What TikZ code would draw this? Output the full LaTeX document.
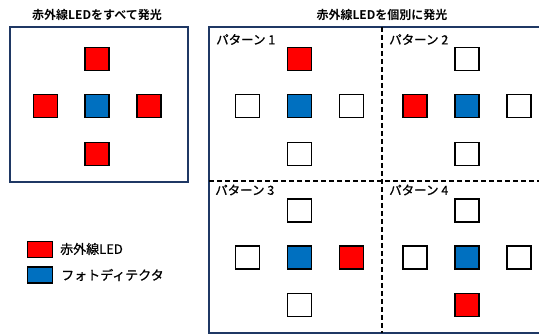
\documentclass[tikz,border=0pt]{standalone}
\usepackage{fontspec}
\newfontfamily\jp{Noto Sans CJK JP}[BoldFont={* Bold}]
\newfontfamily\jpm{Noto Sans CJK JP}[FakeBold=0.8]
\definecolor{ledred}{HTML}{FF0000}
\definecolor{pdblue}{HTML}{0070C0}
\definecolor{frame}{HTML}{1F3864}
\tikzset{
  sq/.style={draw=black,line width=1.6pt,minimum width=24pt,minimum height=23pt,inner sep=0pt},
  led/.style={sq,fill=ledred},
  pd/.style={sq,fill=pdblue},
  off/.style={sq,fill=white},
  legsq/.style={draw=black,line width=1.6pt,minimum width=25pt,minimum height=16pt,inner sep=0pt},
  title/.style={font=\jp\bfseries\fontsize{12}{14}\selectfont,inner sep=0pt},
  plabel/.style={font=\jpm\fontsize{12.5}{14}\selectfont,inner sep=0pt,anchor=west},
  legtext/.style={font=\jpm\fontsize{13}{15}\selectfont,inner sep=0pt,anchor=west},
  panel/.style={draw=frame,line width=2pt},
  divider/.style={draw=black,line width=1.5pt,dash pattern=on 5pt off 3pt}
}
\begin{document}
\begin{tikzpicture}[x=1pt,y=-1pt]
\clip (0,0) rectangle (539,334);
\fill[white] (0,0) rectangle (539,334);
% left panel
\node[title] (t1) at (97,15) {赤外線LEDをすべて発光};
\draw[panel] (10,27) rectangle (188,182);
\node[led] (aT) at (97,59) {};
\node[led] (aL) at (45.5,106) {};
\node[pd]  (aC) at (97,106) {};
\node[led] (aR) at (149,106) {};
\node[led] (aB) at (97,154) {};
% right panel
\node[title] (t2) at (382,15) {赤外線LEDを個別に発光};
\draw[panel] (209,27) rectangle (560,333);
\draw[divider] (382,27) -- (382,333);
\draw[divider] (209,181) -- (560,181);
\node[plabel] (l1) at (216,39.5) {パターン 1};
\node[plabel] (l2) at (389,39.5) {パターン 2};
\node[plabel] (l3) at (215,190) {パターン 3};
\node[plabel] (l4) at (389,190) {パターン 4};
% pattern 1
\node[led] (p1T) at (299.5,59) {};
\node[off] (p1L) at (247.5,106) {};
\node[pd]  (p1C) at (299.5,106) {};
\node[off] (p1R) at (351.5,106) {};
\node[off] (p1B) at (299.5,154) {};
% pattern 2
\node[off] (p2T) at (467,59) {};
\node[led] (p2L) at (415,106) {};
\node[pd]  (p2C) at (467,106) {};
\node[off] (p2R) at (519,106) {};
\node[off] (p2B) at (467,154) {};
% pattern 3
\node[off] (p3T) at (299.5,210.5) {};
\node[off] (p3L) at (247.5,257.5) {};
\node[pd]  (p3C) at (299.5,257.5) {};
\node[led] (p3R) at (351.5,257.5) {};
\node[off] (p3B) at (299.5,305) {};
% pattern 4
\node[off] (p4T) at (467,210.5) {};
\node[off] (p4L) at (415,257.5) {};
\node[pd]  (p4C) at (467,257.5) {};
\node[off] (p4R) at (519,257.5) {};
\node[led] (p4B) at (467,305) {};
% legend
\node[legsq,fill=ledred] (k1) at (40,249.5) {};
\node[legtext] (k1t) at (60,249) {赤外線LED};
\node[legsq,fill=pdblue] (k2) at (40,275) {};
\node[legtext] (k2t) at (61,275) {フォトディテクタ};
\end{tikzpicture}
\end{document}
